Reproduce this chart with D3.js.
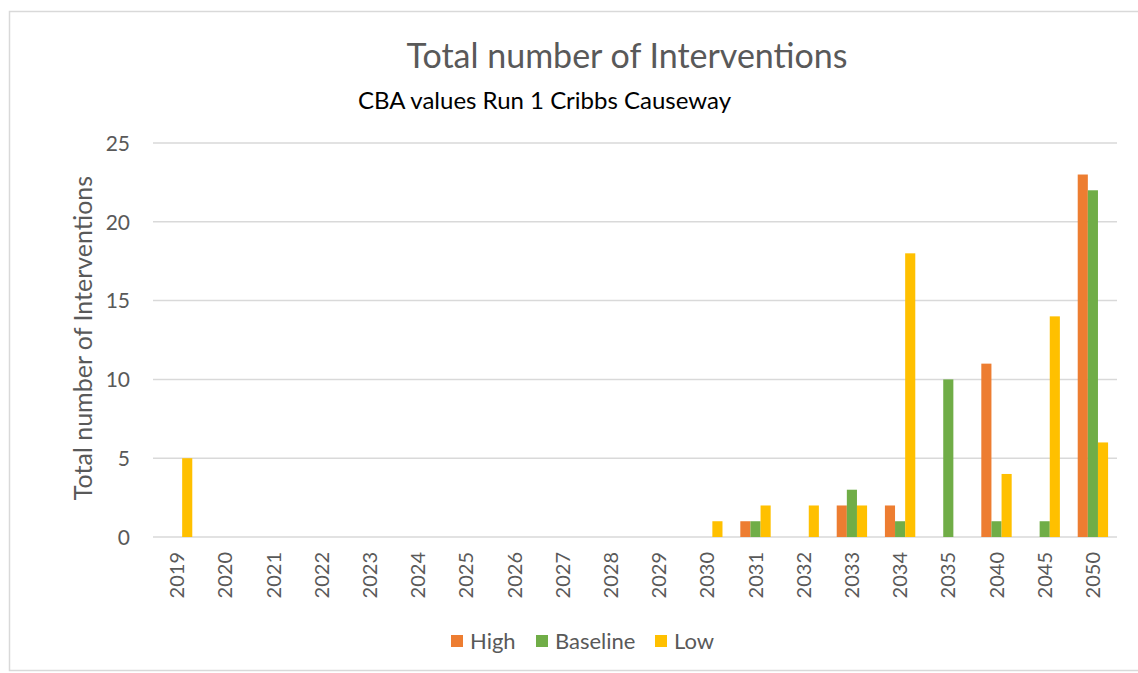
<!DOCTYPE html>
<html><head><meta charset="utf-8">
<script src="https://cdn.jsdelivr.net/npm/d3@7"></script>
<style>body{margin:0;background:#fff}svg{display:block}text{font-family:Lato,"Open Sans",sans-serif}</style>
</head><body>
<svg id="c" width="1138" height="673"></svg>
<script>
const categories = ["2019","2020","2021","2022","2023","2024","2025","2026","2027","2028","2029","2030","2031","2032","2033","2034","2035","2040","2045","2050"];
const seriesNames = ["High","Baseline","Low"];
const high     = [0,0,0,0,0,0,0,0,0,0,0,0,1,0,2,2,0,11,0,23];
const baseline = [0,0,0,0,0,0,0,0,0,0,0,0,1,0,3,1,10,1,1,22];
const low      = [5,0,0,0,0,0,0,0,0,0,0,1,2,2,2,18,0,4,14,6];
const yTicks = [0,5,10,15,20,25];
const colors = ["#ED7D31","#70AD47","#FFC000"];
const title = "Total number of Interventions";
const subtitle = "CBA values Run 1 Cribbs Causeway";
const yTitle = "Total number of Interventions";

const svg = d3.select("#c");
svg.append("rect").attr("x",9.5).attr("y",11.5).attr("width",1140).attr("height",659)
  .attr("fill","none").attr("stroke","#d9d9d9").attr("stroke-width",1.5);

const L=153, R=1117, T=143, B=537;
const x = d3.scaleBand().domain(categories).range([L,R]).paddingInner(0.37).paddingOuter(0.185);
const xs = d3.scaleBand().domain(seriesNames).range([0,x.bandwidth()]);
const y = d3.scaleLinear().domain([0,25]).range([B,T]);

svg.append("g").selectAll("line").data(yTicks).join("line")
  .attr("x1",L).attr("x2",R).attr("y1",d=>y(d)).attr("y2",d=>y(d))
  .attr("stroke","#d9d9d9").attr("stroke-width",1.5);

const yAxis = d3.axisLeft(y).tickValues(yTicks).tickSize(0).tickPadding(0);
const ya = svg.append("g").attr("transform",`translate(${L-23},0)`).call(yAxis);
ya.select(".domain").remove();
ya.selectAll("text").attr("font-size",21).attr("fill","#595959").style("font-family","Lato,'Open Sans',sans-serif").attr("dy","0.35em");

const xAxis = d3.axisBottom(x).tickSize(0).tickPadding(0);
const xa = svg.append("g").attr("transform",`translate(0,${B})`).call(xAxis);
xa.select(".domain").remove();
xa.selectAll("text").attr("font-size",20).attr("fill","#595959").style("font-family","Lato,'Open Sans',sans-serif")
  .attr("transform","rotate(-90)").attr("text-anchor","end").attr("x",-15).attr("y",0).attr("dy","0.35em");

const data = [high,baseline,low];
seriesNames.forEach((s,si)=>{
  svg.append("g").selectAll("rect").data(categories.map((c,i)=>({c,v:data[si][i]})).filter(d=>d.v>0)).join("rect")
    .attr("x",d=>x(d.c)+xs(s)).attr("width",xs.bandwidth())
    .attr("y",d=>y(d.v)).attr("height",d=>y(0)-y(d.v))
    .attr("fill",colors[si]);
});

svg.append("text").attr("x",627).attr("y",68).attr("text-anchor","middle")
  .attr("font-size",34).attr("fill","#595959").text(title);
svg.append("text").attr("x",358).attr("y",109)
  .attr("font-size",24).attr("fill","#000").text(subtitle);
svg.append("text").attr("transform",`translate(92,338) rotate(-90)`).attr("text-anchor","middle")
  .attr("font-size",25).attr("fill","#595959").text(yTitle);

const lg = svg.append("g");
const legX = [451,536,655];
seriesNames.forEach((s,i)=>{
  lg.append("rect").attr("x",legX[i]).attr("y",635).attr("width",12).attr("height",12).attr("fill",colors[i]);
  lg.append("text").attr("x",legX[i]+19).attr("y",649).attr("font-size",22).attr("fill","#595959").text(s);
});
</script>
</body></html>
